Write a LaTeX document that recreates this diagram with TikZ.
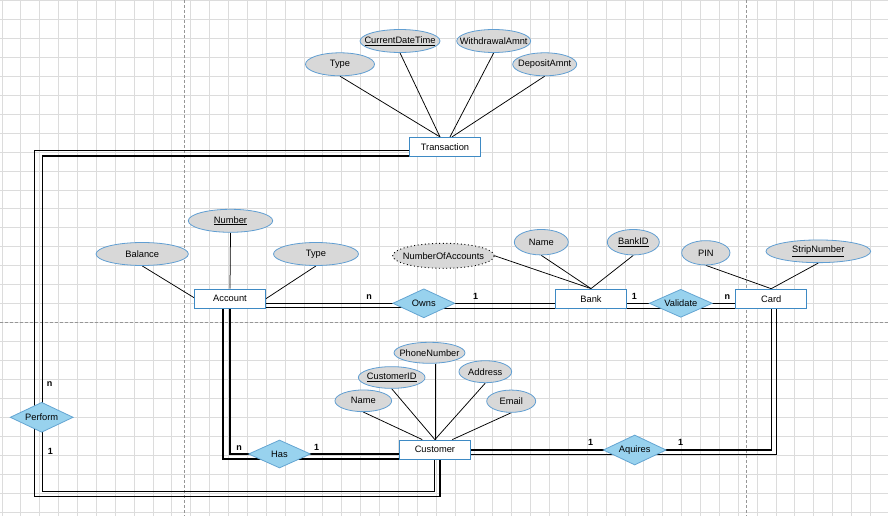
\documentclass[tikz,border=0pt]{standalone}
\usepackage{fontspec}
\setmainfont{Liberation Sans}
\usetikzlibrary{shapes.geometric}

\definecolor{gridgray}{RGB}{220,220,220}
\definecolor{pagebreak}{RGB}{150,150,150}
\definecolor{entityline}{RGB}{62,138,196}
\definecolor{attrfill}{RGB}{216,216,216}
\definecolor{attrline}{RGB}{96,158,210}
\definecolor{relfill}{RGB}{152,210,238}
\definecolor{relline}{RGB}{100,165,210}

\pgfdeclarelayer{gridlayer}
\pgfdeclarelayer{wires}
\pgfsetlayers{gridlayer,wires,main}

\newcommand\erfont{\fontsize{9.3}{11}\selectfont}

\tikzset{
  % text centred in a zero-width box, so the outline keeps its given size
  fixedsize/.style={execute at begin node={\hbox to 0pt\bgroup\hss},
                    execute at end node={\hss\egroup}},
  entity/.style={draw=entityline, fill=white, line width=0.9pt, inner sep=0pt,
                 minimum width=71pt, minimum height=19.3pt, font=\erfont},
  attr/.style={ellipse, draw=attrline, fill=attrfill, line width=0.8pt, inner sep=0pt,
               minimum height=23pt, font=\erfont, fixedsize},
  derived/.style={attr, draw=black, line width=0.9pt, dash pattern=on 1pt off 2.6pt},
  rel/.style={diamond, draw=relline, fill=relfill, line width=0.8pt, inner sep=0pt,
              shape aspect=2.2, minimum width=63pt, minimum height=29pt,
              font=\erfont, fixedsize},
  link/.style={line width=0.75pt, black},
  wire/.style={line width=1.15pt, black},
  cardlabel/.style={inner sep=0pt, font=\fontsize{9}{10}\selectfont\bfseries},
  gridline/.style={gridgray, line width=0.6pt},
  breakline/.style={pagebreak, line width=0.7pt, dash pattern=on 3pt off 2pt}
}

\begin{document}
\begin{tikzpicture}[x=1pt, y=-1pt]
\useasboundingbox (0,0) rectangle (888,516);

% sheet grid and page breaks
\begin{pgfonlayer}{gridlayer}
  \fill[white] (0,0) rectangle (888,516);
  \foreach \i in {0,...,46} \draw[gridline] ({1.8+18.88*\i},0) -- ({1.8+18.88*\i},516);
  \foreach \j in {0,...,27} \draw[gridline] (0,{0.3+18.95*\j}) -- (888,{0.3+18.95*\j});
  \draw[breakline] (184.5,0) -- (184.5,516);
  \draw[breakline] (746.5,0) -- (746.5,516);
  \draw[breakline] (0,322) -- (888,322);
\end{pgfonlayer}

% entities
\node[entity] (trans)    at (445,147)     {Transaction};
\node[entity] (account)  at (230,298.7)   {Account};
\node[entity, minimum width=70.3pt] (bank) at (591,298.7) {Bank};
\node[entity] (card)     at (771.2,298.8) {Card};
\node[entity, minimum width=71.7pt] (customer) at (434.9,449.7) {Customer};

% relationships
\node[rel, minimum width=62pt] (owns)     at (423.8,303.3) {Owns};
\node[rel, minimum height=28pt] (validate) at (680.8,303.3) {Validate};
\node[rel, minimum height=30pt] (aquires)  at (634.7,450)   {Aquires};
\node[rel, minimum width=62pt, minimum height=28pt] (has) at (279.5,454) {Has};
\node[rel, minimum height=30pt] (perform)  at (41.7,417.3)  {Perform};

% attributes of Transaction
\node[attr, minimum width=69pt] (tType) at (340,64.3)  {Type};
\node[attr, minimum width=80pt] (tCDT)  at (400,41)    {\underline{CurrentDateTime}};
\node[attr, minimum width=74pt] (tWA)   at (493.7,41)  {WithdrawalAmnt};
\node[attr, minimum width=64pt] (tDA)   at (544.7,64.3) {DepositAmnt};

% attributes of Account
\node[attr, minimum width=84.4pt] (aNum)  at (230.5,220.8) {\underline{Number}};
\node[attr, minimum width=92.3pt] (aBal)  at (142.2,254)   {Balance};
\node[attr, minimum width=85pt]   (aType) at (316,254)     {Type};

% attributes of Bank
\node[derived, minimum width=101.6pt, minimum height=25pt] (bNOA) at (443.5,255.8) {NumberOfAccounts};
\node[attr, minimum width=54pt, minimum height=25.5pt] (bName) at (541.3,242.2) {Name};
\node[attr, minimum width=52pt, minimum height=25.5pt] (bID)   at (633.3,242.2) {\underline{BankID}};

% attributes of Card
\node[attr, minimum width=48.3pt, minimum height=24.3pt] (cPIN)   at (705.8,252.8) {PIN};
\node[attr, minimum width=104.7pt, minimum height=22.7pt] (cStrip) at (818.3,251.3) {\underline{StripNumber}};

% attributes of Customer
\node[attr, minimum width=71pt, minimum height=21pt]     (uPhone) at (429.5,352.8) {PhoneNumber};
\node[attr, minimum width=66.7pt, minimum height=21.7pt] (uID)    at (391.7,377.5) {\underline{CustomerID}};
\node[attr, minimum width=52.7pt, minimum height=22pt]   (uAddr)  at (485.3,371.7) {Address};
\node[attr, minimum width=56.7pt, minimum height=21.7pt] (uName)  at (363.3,400.8) {Name};
\node[attr, minimum width=49pt, minimum height=22.3pt]   (uEmail) at (511.2,401.2) {Email};

% cardinalities
\node[cardlabel] (nAO) at (369,296.7)   {n};
\node[cardlabel] (nOB) at (475.7,296.7) {1};
\node[cardlabel] (nBV) at (634.3,296.7) {1};
\node[cardlabel] (nVC) at (727.3,296.7) {n};
\node[cardlabel] (nTP) at (49.5,384.3)  {n};
\node[cardlabel] (nPC) at (50.5,451)    {1};
\node[cardlabel] (nAH) at (239,447.7)   {n};
\node[cardlabel] (nHC) at (316.7,447.7) {1};
\node[cardlabel] (nCA) at (590.7,442.7) {1};
\node[cardlabel] (nAC) at (680.7,442.7) {1};

\begin{pgfonlayer}{wires}
  % attribute links
  \draw[link] (tType.south) -- ([xshift=-5pt]trans.north);
  \draw[link] (tCDT.south)  -- ([xshift=-5pt]trans.north);
  \draw[link] (tWA.south)   -- ([xshift=5pt]trans.north);
  \draw[link] (tDA.south)   -- ([xshift=7pt]trans.north);

  \draw[link] (aBal.south)  -- ([yshift=1pt]account.west);
  \draw[link] (aNum.south)  -- (account.north);
  \draw[link] (aType.south) -- (account.east);

  \draw[link] (bNOA.east)   -- (bank.north);
  \draw[link] (bName.south) -- (bank.north);
  \draw[link] (bID.south)   -- (bank.north);

  \draw[link] (cPIN.south)   -- (card.north);
  \draw[link] (cStrip.south) -- (card.north);

  \draw[link] (uName.south) -- ([xshift=-12.6pt]customer.north);
  \draw[link] (uID.south)   -- (customer.north);
  \draw[link] (customer.north |- uPhone.south) -- (customer.north);
  \draw[link] (uAddr.south) -- (customer.north);
  \draw[link] (uEmail.south) -- ([xshift=17.4pt]customer.north);

  % Transaction -- Perform
  \draw[wire] ([yshift=-3.7pt]trans.west) -| ([xshift=-7pt]perform.center);
  \draw[wire] ([yshift=-9pt]trans.west)   -| ([xshift=1pt]perform.center);

  % Perform -- Customer
  \draw[wire] ([xshift=-7pt]perform.center) |- ([xshift=5.1pt,yshift=-47pt]customer.center)
              -- ([xshift=5.1pt]customer.center);
  \draw[wire] ([xshift=1pt]perform.center) |- ([yshift=-42pt]customer.center)
              -- (customer.center);

  % Account -- Owns -- Bank -- Validate -- Card
  \draw[wire] (account.center |- owns.center) -- (owns.center);
  \draw[wire, transform canvas={yshift=-4.4pt}] (account.center |- owns.center) -- (owns.center);
  \draw[wire] (owns.center) -- (owns.center -| bank.center);
  \draw[wire, transform canvas={yshift=-5pt}] (owns.center) -- (owns.center -| bank.center);
  \draw[wire] (bank.center |- validate.center) -- (validate.center);
  \draw[wire, transform canvas={yshift=-5pt}] (bank.center |- validate.center) -- (validate.center);
  \draw[wire] (validate.center) -- (validate.center -| card.center);
  \draw[wire, transform canvas={yshift=-5pt}] (validate.center) -- (validate.center -| card.center);

  % Account -- Has -- Customer
  \draw[wire] (account.center) |- (has.center);
  \draw[wire, transform canvas={xshift=-7pt, yshift=-5pt}] (account.center) |- (has.center);
  \draw[wire] (has.center) -- (has.center -| customer.center);
  \draw[wire, transform canvas={yshift=-5pt}] (has.center) -- (has.center -| customer.center);

  % Customer -- Aquires -- Card
  \draw[wire] (customer.center |- aquires.center) -- (aquires.center);
  \draw[wire, transform canvas={yshift=-4.3pt}] (customer.center |- aquires.center) -- (aquires.center);
  \draw[wire] (aquires.center) -| (card.center);
  \draw[wire, transform canvas={xshift=5.5pt, yshift=-4.3pt}] (aquires.center) -| (card.center);
\end{pgfonlayer}
\end{tikzpicture}
\end{document}
